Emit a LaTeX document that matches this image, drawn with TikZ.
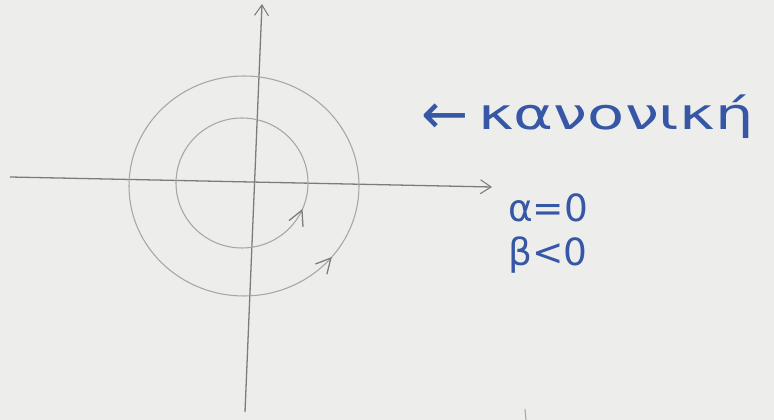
\documentclass[tikz,border=0pt]{standalone}
\usepackage{fontspec}
\usetikzlibrary{arrows.meta,decorations.markings}
\newfontfamily\handfont[FakeStretch=1.4]{DejaVu Sans}
\newfontfamily\handnarrow{DejaVu Sans}
\definecolor{paper}{HTML}{EDEDEC}
\definecolor{pencil}{HTML}{7C7C7C}
\definecolor{faint}{HTML}{A6A6A6}
\definecolor{ink}{HTML}{3657A6}

\begin{document}
\begin{tikzpicture}[x=0.03cm,y=0.03cm,
  axis/.style={draw=pencil,line width=1.1pt,-{Straight Barb[length=3.2mm,width=4.2mm,line width=0.9pt]}},
  orbit/.style={draw=faint,line width=0.9pt},
  flow/.style={postaction={decorate},decoration={markings,
    mark=at position #1 with {\arrow{Straight Barb[length=4.4mm,width=4.6mm,line width=1.1pt,color=pencil]}}}},
  label/.style={text=ink,inner sep=0pt,anchor=base west}
]
\fill[paper] (0,0) rectangle (774,420);
\useasboundingbox (0,0) rectangle (774,420);

% axes
\coordinate (ybot) at (245,8);
\coordinate (ytop) at (262,416);
\coordinate (xleft) at (10,243);
\coordinate (xright) at (492,233);
\draw[axis] (ybot) -- (ytop);
\draw[axis] (xleft) -- (xright);

% trajectories
\coordinate (outerc) at (244,234);
\coordinate (innerc) at (242,237);
\draw[orbit,flow=0.89] (outerc) ellipse [x radius=115,y radius=110];
\draw[orbit,flow=0.935] (innerc) ellipse [x radius=66,y radius=65];

% stray stroke at the bottom
\coordinate (tickbot) at (526,0);
\coordinate (ticktop) at (525,11);
\draw[faint,line width=0.9pt] (tickbot) -- (ticktop);

% text
\node[label,font=\handnarrow\fontsize{48}{50}\selectfont] (pointer) at (421,286) {←};
\node[label,font=\handfont\fontsize{37}{40}\selectfont] (kind) at (478,290) {κανονική};
\node[label,font=\handnarrow\fontsize{32}{34}\selectfont] (alpha) at (508,198) {α=0};
\node[label,font=\handnarrow\fontsize{32}{34}\selectfont] (beta) at (508,154) {β<0};
\end{tikzpicture}
\end{document}
